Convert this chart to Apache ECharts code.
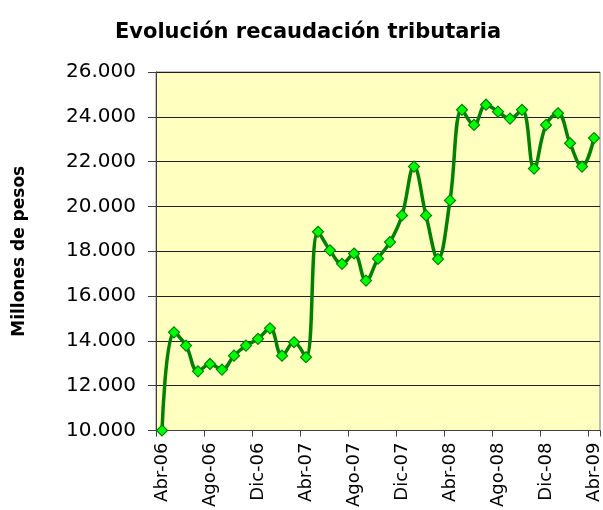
<!DOCTYPE html>
<html>
<head>
<meta charset="utf-8">
<script src="https://cdn.jsdelivr.net/npm/echarts@6/dist/echarts.min.js"></script>
<style>html,body{margin:0;padding:0;background:#fff}#c{width:603px;height:510px}</style>
</head>
<body>
<div id="c"></div>
<script>
var categories = ["Abr-06","May-06","Jun-06","Jul-06","Ago-06","Sep-06","Oct-06","Nov-06","Dic-06","Ene-07","Feb-07","Mar-07",
  "Abr-07","May-07","Jun-07","Jul-07","Ago-07","Sep-07","Oct-07","Nov-07","Dic-07","Ene-08","Feb-08","Mar-08",
  "Abr-08","May-08","Jun-08","Jul-08","Ago-08","Sep-08","Oct-08","Nov-08","Dic-08","Ene-09","Feb-09","Mar-09","Abr-09"];
var recaudacion = [10000, 14380, 13790, 12640, 12970, 12720, 13340, 13790, 14090, 14560, 13340, 13940,
  13270, 18870, 18040, 17440, 17900, 16690, 17670, 18410, 19600, 21780, 19600, 17650,
  20270, 24310, 23640, 24540, 24230, 23920, 24310, 21690, 23640, 24160, 22820, 21780, 23050];
var titleText = "Evolución recaudación tributaria";
var yAxisName = "Millones de pesos";

function fmt(v){ return String(v).replace(/\B(?=(\d{3})+(?!\d))/g, "."); }

var chart = echarts.init(document.getElementById('c'), null, {renderer:'canvas'});
chart.setOption({
  backgroundColor: '#ffffff',
  animation: false,
  title: {
    text: titleText,
    left: 303, top: 17, textAlign: 'center',
    textStyle: {fontFamily: 'DejaVu Sans', fontWeight: 'bold', fontSize: 21, color: '#000'}
  },
  grid: {
    left: 156, right: 2, top: 72, bottom: 79,
    show: true, backgroundColor: '#FFFFC0', borderColor: '#808080', borderWidth: 1
  },
  xAxis: {
    type: 'category',
    data: categories,
    boundaryGap: true,
    axisLine: {lineStyle: {color: '#404040', width: 1}},
    axisTick: {show: true, interval: 3, length: 6, lineStyle: {color: '#404040'}},
    axisLabel: {interval: 3, rotate: 90, margin: 12, fontFamily: 'DejaVu Sans', fontSize: 18, color: '#000'},
    splitLine: {show: false}
  },
  yAxis: {
    type: 'value',
    min: 10000, max: 26000, interval: 2000,
    name: yAxisName,
    nameLocation: 'middle',
    nameRotate: 90,
    nameGap: 128,
    nameTextStyle: {fontFamily: 'DejaVu Sans', fontWeight: 'bold', fontSize: 17, color: '#000'},
    axisLine: {show: true, lineStyle: {color: '#404040', width: 1}},
    axisTick: {show: true, length: 8, lineStyle: {color: '#404040'}},
    axisLabel: {margin: 20, formatter: fmt, fontFamily: 'DejaVu Sans', fontSize: 20, color: '#000'},
    splitLine: {show: true, lineStyle: {color: '#202020', width: 1}}
  },
  series: [{
    type: 'line',
    data: recaudacion,
    smooth: 0.4,
    showAllSymbol: true,
    lineStyle: {color: '#008000', width: 3.5},
    symbol: 'diamond',
    symbolSize: 11,
    itemStyle: {color: '#00FF00', borderColor: '#008000', borderWidth: 1.2}
  }]
});
</script>
</body>
</html>
